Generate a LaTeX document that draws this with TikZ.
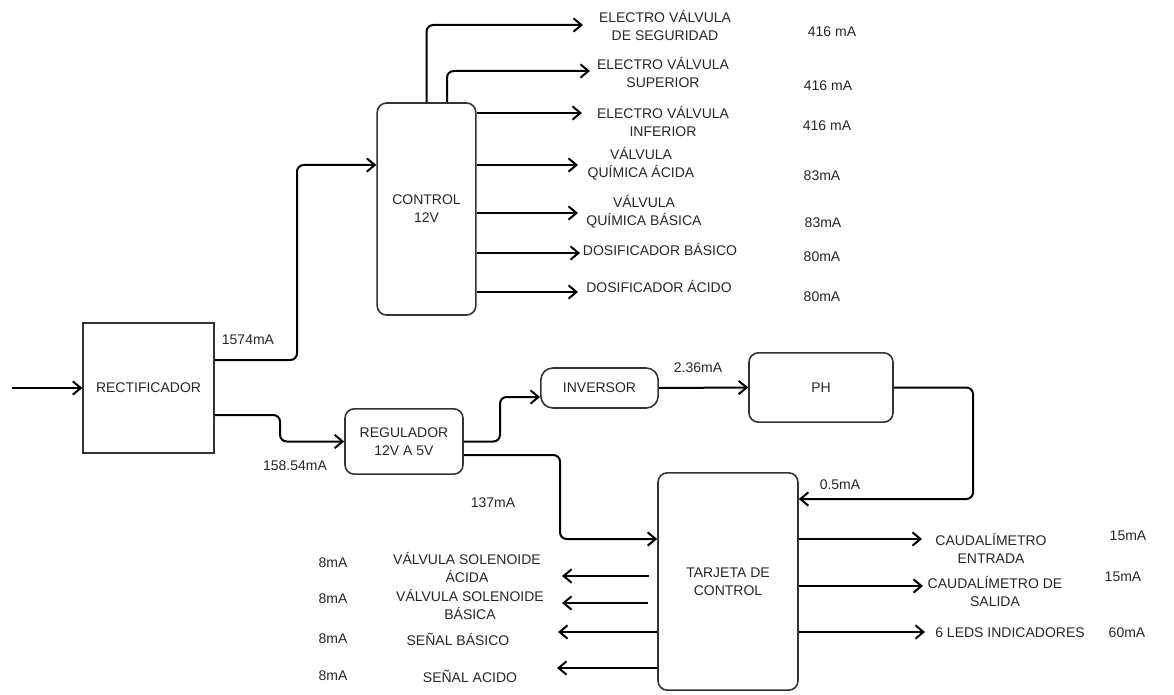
\documentclass[tikz,border=0pt]{standalone}
\usepackage{fontspec}
\setmainfont{Liberation Sans}
\usetikzlibrary{arrows.meta}
\begin{document}
\begin{tikzpicture}[>={Straight Barb[length=6pt,width=10pt]}, x=0.75pt, y=-0.75pt, font=\fontsize{10.5}{13.5}\selectfont]
    % Power budget of the pH dosing controller (currents per branch)
    \tikzset{block/.style={draw=black!80, line width=1.2pt, rounded corners=7pt, align=center, text=black!85}, sqblock/.style={block, rounded corners=0pt}, wire/.style={->, line width=1.5pt, rounded corners=5pt}, tag/.style={inner sep=0pt, align=center, text=black!85}}
    \useasboundingbox (0,0) rectangle (1174,695);
    % blocks
    \node[sqblock, minimum width=98pt, minimum height=97.5pt] (rect) at (148.5,388) {RECTIFICADOR};
    \node[block, minimum width=74pt, minimum height=159pt] (ctrl) at (426.5,209) {CONTROL\\12V};
    \node[block, minimum width=88.5pt, minimum height=49pt] (reg) at (404,441.5) {REGULADOR\\12V A 5V};
    \node[block, minimum width=88pt, minimum height=30pt, rounded corners=9pt] (inv) at (599.5,388) {INVERSOR};
    \node[block, minimum width=108pt, minimum height=52pt] (ph) at (821,387.5) {PH};
    \node[block, minimum width=105pt, minimum height=163pt] (tarj) at (728,581.5) {TARJETA DE\\CONTROL};
    % free ends
    \coordinate (in) at (12,388);
    \coordinate (o1) at (583,25); \coordinate (o2) at (590,71); \coordinate (o3) at (582,113); \coordinate (o4) at (578,165);
    \coordinate (o5) at (578,213); \coordinate (o6) at (580,253); \coordinate (o7) at (578,292);
    \coordinate (l1s) at (649,576); \coordinate (l1) at (562,576); \coordinate (l2s) at (648,603); \coordinate (l2) at (562,603);
    \coordinate (l3) at (558,632); \coordinate (l4) at (557,668);
    \coordinate (r1) at (922,539); \coordinate (r2) at (923,586); \coordinate (r3) at (925,632);
    % supply path
    \draw[wire] (in) -- (rect.west);
    \draw[wire] (rect.east |- 0,360) -| (297,165) -- (ctrl.west |- 0,165);
    \draw[wire] (rect.east |- 0,415) -| (280,441.5) -- (reg.west);
    \draw[wire] (reg.east) -| (500,397) -- (inv.west |- 0,397);
    \draw[wire] (inv.east) -- (ph.west);
    \draw[wire] (ph.east) -| (973,499) -- (tarj.east |- 0,499);
    \draw[wire] (reg.east |- 0,455) -| (560,539) -- (tarj.west |- 0,539);
    % control outputs
    \draw[wire] (ctrl.north) |- (o1); \draw[wire] (ctrl.north -| 447,0) |- (o2);
    \draw[wire] (ctrl.east |- o3) -- (o3); \draw[wire] (ctrl.east |- o4) -- (o4); \draw[wire] (ctrl.east |- o5) -- (o5);
    \draw[wire] (ctrl.east |- o6) -- (o6); \draw[wire] (ctrl.east |- o7) -- (o7);
    % card outputs
    \draw[wire] (l1s) -- (l1); \draw[wire] (l2s) -- (l2); \draw[wire] (tarj.west |- l3) -- (l3); \draw[wire] (tarj.west |- l4) -- (l4);
    \draw[wire] (tarj.east |- r1) -- (r1); \draw[wire] (tarj.east |- r2) -- (r2); \draw[wire] (tarj.east |- r3) -- (r3);
    % loads
    \node[tag] (t1) at (665,26) {ELECTRO VÁLVULA\\DE SEGURIDAD}; \node[tag] (t2) at (663,73) {ELECTRO VÁLVULA\\SUPERIOR};
    \node[tag] (t3) at (663,122) {ELECTRO VÁLVULA\\INFERIOR}; \node[tag] (t4) at (641,164) {VÁLVULA\\QUÍMICA ÁCIDA};
    \node[tag] (t5) at (644,212) {VÁLVULA\\QUÍMICA BÁSICA}; \node[tag] (t6) at (660,249) {DOSIFICADOR BÁSICO};
    \node[tag] (t7) at (659,286) {DOSIFICADOR ÁCIDO};
    \node[tag] (s1) at (467,567) {VÁLVULA SOLENOIDE\\ÁCIDA}; \node[tag] (s2) at (470,604) {VÁLVULA SOLENOIDE\\BÁSICA};
    \node[tag] (s3) at (458,639) {SEÑAL BÁSICO}; \node[tag] (s4) at (470,676) {SEÑAL ACIDO};
    \node[tag] (c1) at (991,548) {CAUDALÍMETRO\\ENTRADA}; \node[tag] (c2) at (995,591) {CAUDALÍMETRO DE\\SALIDA};
    \node[tag] (c3) at (1010,633) {6 LEDS INDICADORES};
    % currents
    \node[tag] (i1) at (832,32) {416 mA}; \node[tag] (i2) at (828,86) {416 mA}; \node[tag] (i3) at (827,126) {416 mA};
    \node[tag] (i4) at (822,176) {83mA}; \node[tag] (i5) at (823,223) {83mA}; \node[tag] (i6) at (822,257) {80mA}; \node[tag] (i7) at (822,297) {80mA};
    \node[tag] (a1) at (248,340) {1574mA}; \node[tag] (a2) at (295,466) {158.54mA}; \node[tag] (a3) at (698,368) {2.36mA};
    \node[tag] (a4) at (840,485) {0.5mA}; \node[tag] (a5) at (493,503) {137mA};
    \node[tag] (m1) at (333,563) {8mA}; \node[tag] (m2) at (333,599) {8mA}; \node[tag] (m3) at (333,639) {8mA}; \node[tag] (m4) at (333,676) {8mA};
    \node[tag] (k1) at (1128,536) {15mA}; \node[tag] (k2) at (1123,577) {15mA}; \node[tag] (k3) at (1127,633) {60mA};
\end{tikzpicture}
\end{document}
